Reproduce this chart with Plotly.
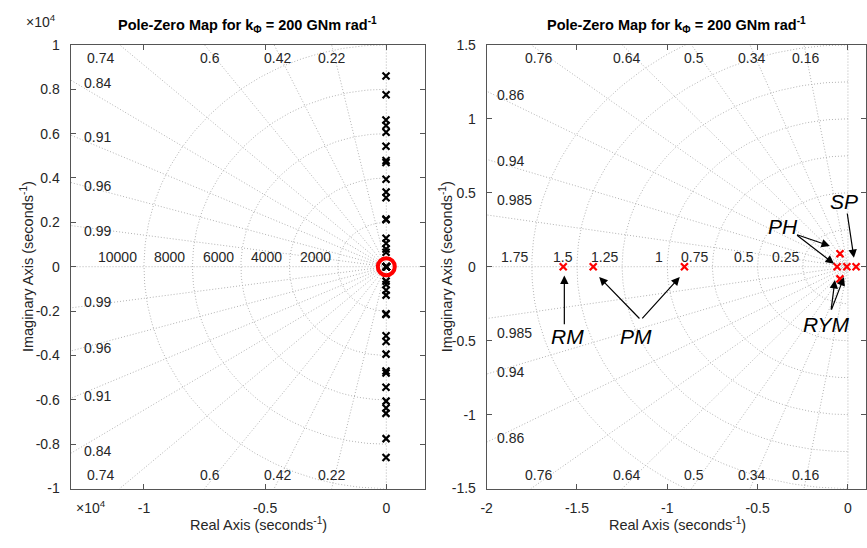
import numpy as np
import plotly.graph_objects as go

W, H = 867, 548

# ---------------- data ----------------
# Left plot: full pole set (real, imag) in s^-1
left_real = [-12, -10, -14, -11, -9, -13, -10, -12, -11, -9, -10, -12, -11, -10, -9, -11, -10,
             -12, -10, -14, -11, -9, -13, -10, -12, -11, -9, -10, -12, -11, -10, -9, -11, -10]
left_imag = [8600, 7750, 6610, 6370, 6060, 5430, 4790, 4700, 3940, 3370, 3110, 2150, 2120, 1280, 1060, 800, 650,
             -8600, -7750, -6610, -6370, -6060, -5430, -4790, -4700, -3940, -3370, -3110, -2150, -2120, -1280, -1060, -800, -650]

# Right plot: low-frequency poles (zoom near origin)
right_real = [-1.576, -1.41, -0.905, -0.06, -0.006, 0.045, -0.044, -0.044]
right_imag = [0.0, 0.0, 0.0, 0.0, 0.0, 0.0, 0.088, -0.082]

# grid values
left_zeta = [0.22, 0.42, 0.6, 0.74, 0.84, 0.91, 0.96, 0.99]
left_wn = [2000, 4000, 6000, 8000, 10000]
right_zeta = [0.16, 0.34, 0.5, 0.64, 0.76, 0.86, 0.94, 0.985]
right_wn = [0.25, 0.5, 0.75, 1.0, 1.25, 1.5, 1.75]

left_xticks = [-10000, -5000, 0]
left_xticklabels = ["-1", "-0.5", "0"]
left_yticks = [-10000, -8000, -6000, -4000, -2000, 0, 2000, 4000, 6000, 8000, 10000]
left_yticklabels = ["-1", "-0.8", "-0.6", "-0.4", "-0.2", "0", "0.2", "0.4", "0.6", "0.8", "1"]
right_xticks = [-2, -1.5, -1, -0.5, 0]
right_xticklabels = ["-2", "-1.5", "-1", "-0.5", "0"]
right_yticks = [-1.5, -1, -0.5, 0, 0.5, 1, 1.5]
right_yticklabels = ["-1.5", "-1", "-0.5", "0", "0.5", "1", "1.5"]

# ---------------- layout constants ----------------
LX = [-13030, 1600]
LY = [-10000, 10000]
RX = [-2.0, 0.1]
RY = [-1.5, 1.5]
YDOM = [(H - 495) / H, (H - 38) / H]
LDOM = [65 / W, 422 / W]
RDOM = [484 / W, 866 / W]

FONT = "Liberation Sans, Arial, sans-serif"
TXT = "#262626"
GRID = "#b2b2b2"
GDASH = "1px,2px"

fig = go.Figure()


def add_grid(xa, ya, zetas, wns, xr, yr):
    R = 10 * max(abs(xr[0]), abs(yr[1]))
    gl = dict(color=GRID, width=1, dash=GDASH)
    fig.add_trace(go.Scatter(x=[xr[0], xr[1]], y=[0, 0], mode="lines", xaxis=xa, yaxis=ya,
                             line=gl, hoverinfo="skip", showlegend=False))
    fig.add_trace(go.Scatter(x=[0, 0], y=[yr[0], yr[1]], mode="lines", xaxis=xa, yaxis=ya,
                             line=gl, hoverinfo="skip", showlegend=False))
    for z in zetas:
        s = np.sqrt(1 - z * z)
        fig.add_trace(go.Scatter(x=[-z * R, 0, -z * R], y=[s * R, 0, -s * R], mode="lines",
                                 xaxis=xa, yaxis=ya, line=gl, hoverinfo="skip", showlegend=False))
    th = np.linspace(np.pi / 2, 3 * np.pi / 2, 240)
    for w in wns:
        fig.add_trace(go.Scatter(x=w * np.cos(th), y=w * np.sin(th), mode="lines",
                                 xaxis=xa, yaxis=ya, line=gl, hoverinfo="skip", showlegend=False))


add_grid("x", "y", left_zeta, left_wn, LX, LY)
add_grid("x2", "y2", right_zeta, right_wn, RX, RY)

# poles
fig.add_trace(go.Scatter(x=left_real + right_real, y=left_imag + right_imag,
                         mode="markers", xaxis="x", yaxis="y",
                         marker=dict(symbol="x-thin", size=7, color="black", line=dict(color="black", width=2.2)),
                         hoverinfo="skip", showlegend=False))
# highlight circle at origin
fig.add_trace(go.Scatter(x=[0], y=[0], mode="markers", xaxis="x", yaxis="y",
                         marker=dict(symbol="circle-open", size=17, color="#ff0000",
                                     line=dict(color="#ff0000", width=4)),
                         hoverinfo="skip", showlegend=False))
fig.add_trace(go.Scatter(x=right_real, y=right_imag, mode="markers", xaxis="x2", yaxis="y2",
                         marker=dict(symbol="x-thin", size=7, color="#ff0000", line=dict(color="#ff0000", width=2.2)),
                         hoverinfo="skip", showlegend=False))

axis_common = dict(showline=True, linecolor="#555555", linewidth=1, mirror="ticks", ticks="inside",
                   ticklen=5, tickcolor="#555555", showgrid=False, zeroline=False,
                   tickfont=dict(family=FONT, size=14, color=TXT), fixedrange=True)

fig.update_layout(
    width=W, height=H, autosize=False, margin=dict(l=0, r=0, t=0, b=0),
    plot_bgcolor="white", paper_bgcolor="white", showlegend=False,
    xaxis=dict(domain=LDOM, range=LX, tickvals=left_xticks, ticktext=left_xticklabels, anchor="y",
               ticklabelstandoff=7, **axis_common),
    yaxis=dict(domain=YDOM, range=LY, tickvals=left_yticks, ticktext=left_yticklabels, anchor="x",
               ticklabelstandoff=7, **axis_common),
    xaxis2=dict(domain=RDOM, range=RX, tickvals=right_xticks, ticktext=right_xticklabels, anchor="y2",
                ticklabelstandoff=7, **axis_common),
    yaxis2=dict(domain=YDOM, range=RY, tickvals=right_yticks, ticktext=right_yticklabels, anchor="x2",
                ticklabelstandoff=7, **axis_common),
)

ann = []


def ptext(px, py, text, size=14, color=TXT, xanchor="center", yanchor="middle", angle=0):
    ann.append(dict(x=px / W, y=1 - py / H, xref="paper", yref="paper", text=text, showarrow=False,
                    xanchor=xanchor, yanchor=yanchor, textangle=angle,
                    font=dict(family=FONT, size=size, color=color)))


# titles
title = "<b>Pole-Zero Map for k<sub>Φ</sub> = 200 GNm rad<sup>-1</sup></b>"
ptext(243, 17, title, size=14.5, color="black")
ptext(675, 17, title, size=14.5, color="black")
# axis titles
ptext(254, 532, "Real Axis (seconds<sup>-1</sup>)", size=14.5)
ptext(676, 532, "Real Axis (seconds<sup>-1</sup>)", size=14.5)
ptext(21, 266, "Imaginary Axis (seconds<sup>-1</sup>)", size=14.5, angle=-90)
ptext(443, 266, "Imaginary Axis (seconds<sup>-1</sup>)", size=14.5, angle=-90)
# exponents
ptext(35, 13, "×10<sup>4</sup>", size=14)
ptext(86, 514, "×10<sup>4</sup>", size=14)

# damping labels (pixel placement)
left_damp_pos = [(95, 52, "0.74"), (205, 52, "0.6"), (273, 52, "0.42"), (328, 52, "0.22"),
                 (92, 77, "0.84"), (92, 133, "0.91"), (92, 183, "0.96"), (92, 230, "0.99")]
right_damp_pos = [(536, 52, "0.76"), (625, 52, "0.64"), (693, 52, "0.5"), (751, 52, "0.34"), (805, 52, "0.16"),
                  (508, 90, "0.86"), (508, 158, "0.94"), (512, 198, "0.985")]
for px, py, t in left_damp_pos + right_damp_pos:
    ptext(px, py, t)
    ptext(px, 533 - py, t)

# frequency labels along real axis
for w in left_wn:
    ann.append(dict(x=-w, y=0, xref="x", yref="y", text=str(w), showarrow=False, xanchor="right",
                    yanchor="bottom", xshift=-5, yshift=0, font=dict(family=FONT, size=14, color=TXT)))
for w in right_wn:
    ann.append(dict(x=-w, y=0, xref="x2", yref="y2", text=("%g" % w), showarrow=False, xanchor="right",
                    yanchor="bottom", xshift=-2, yshift=0, font=dict(family=FONT, size=14, color=TXT)))

# mode annotations (text)
mode_text = [("RM", -1.555, -0.47), ("PM", -1.175, -0.47), ("PH", -0.36, 0.27), ("SP", -0.02, 0.44), ("RYM", -0.12, -0.39)]
for t, x, y in mode_text:
    ann.append(dict(x=x, y=y, xref="x2", yref="y2", text="<i>%s</i>" % t, showarrow=False,
                    font=dict(family=FONT, size=21, color="black")))

# arrows: (tail_x, tail_y, head_x, head_y)
arrows = [(-1.570, -0.40, -1.570, -0.06),
          (-1.146, -0.36, -1.377, -0.07), (-1.146, -0.36, -0.931, -0.07),
          (-0.29, 0.22, -0.10, 0.14), (-0.29, 0.22, -0.077, 0.02),
          (-0.005, 0.37, 0.033, 0.06),
          (-0.094, -0.30, -0.072, -0.09), (-0.094, -0.30, -0.022, -0.07)]
for tx, ty, hx, hy in arrows:
    ann.append(dict(x=hx, y=hy, ax=tx, ay=ty, xref="x2", yref="y2", axref="x2", ayref="y2", text="",
                    showarrow=True, arrowhead=2, arrowsize=1.4, arrowwidth=1.2, arrowcolor="black"))

fig.update_layout(annotations=ann)
fig.write_html("out.html")
